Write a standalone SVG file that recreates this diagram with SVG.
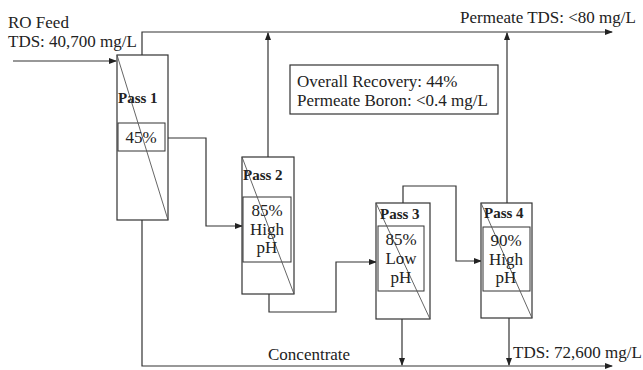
<svg xmlns="http://www.w3.org/2000/svg" width="643" height="370" viewBox="0 0 643 370">
<defs>
<marker id="ah" markerWidth="8" markerHeight="6" refX="7" refY="3" orient="auto" markerUnits="userSpaceOnUse">
<path d="M0,0 L8,3 L0,6 Z" fill="#222"/>
</marker>
</defs>
<style>
.ln{fill:none;stroke:#333;stroke-width:1.2}
.box{fill:#fff;stroke:#333;stroke-width:1.2}
.ib{fill:#fff;stroke:#333;stroke-width:1}
.dg{stroke:#555;stroke-width:0.9}
.t{font-family:"Liberation Serif",serif;font-size:17px;fill:#222}
.b{font-family:"Liberation Serif",serif;font-size:15px;font-weight:bold;fill:#222}
.c{text-anchor:middle}
</style>
<rect width="643" height="370" fill="#fff"/>
<g id="connectors">
<path class="ln" d="M13,61 H116" marker-end="url(#ah)"/>
<path class="ln" d="M142,55 V32 H612" marker-end="url(#ah)"/>
<path class="ln" d="M268,157 V33" marker-end="url(#ah)"/>
<path class="ln" d="M507,203 V33" marker-end="url(#ah)"/>
<path class="ln" d="M142,220 V366 H612" marker-end="url(#ah)"/>
<path class="ln" d="M165,138 H206 V226 H242" marker-end="url(#ah)"/>
<path class="ln" d="M269,294 V312 H336 V262 H376" marker-end="url(#ah)"/>
<path class="ln" d="M403,203 V186 H456 V261 H481" marker-end="url(#ah)"/>
<path class="ln" d="M402,319 V365" marker-end="url(#ah)"/>
<path class="ln" d="M509,318 V365" marker-end="url(#ah)"/>
</g>
<g id="feed">
<text class="t" x="8" y="28">RO Feed</text>
<text class="t" x="8" y="47">TDS: 40,700 mg/L</text>
</g>
<g id="permeate">
<text class="t" x="460" y="23">Permeate TDS: &lt;80 mg/L</text>
</g>
<g id="summary">
<rect class="box" x="290" y="65" width="208" height="49"/>
<text class="t" x="297" y="87">Overall Recovery: 44%</text>
<text class="t" x="297" y="106">Permeate Boron: &lt;0.4 mg/L</text>
</g>
<g id="pass1">
<rect class="box" x="117" y="55" width="51" height="165"/>
<rect class="ib" x="118" y="123" width="47" height="28"/>
<line class="dg" x1="117" y1="55" x2="168" y2="220"/>
<text class="b" x="118" y="103">Pass 1</text>
<text class="t c" x="141" y="143">45%</text>
</g>
<g id="pass2">
<rect class="box" x="242" y="157" width="52" height="137"/>
<rect class="ib" x="243" y="197" width="48" height="65"/>
<line class="dg" x1="242" y1="157" x2="294" y2="294"/>
<text class="b" x="243" y="180">Pass 2</text>
<text class="t c" x="267" y="216">85%</text>
<text class="t c" x="267" y="235">High</text>
<text class="t c" x="267" y="253">pH</text>
</g>
<g id="pass3">
<rect class="box" x="376" y="203" width="54" height="116"/>
<rect class="ib" x="378" y="226" width="46" height="65"/>
<line class="dg" x1="376" y1="203" x2="430" y2="319"/>
<text class="b" x="380" y="219">Pass 3</text>
<text class="t c" x="401" y="245">85%</text>
<text class="t c" x="401" y="264">Low</text>
<text class="t c" x="401" y="283">pH</text>
</g>
<g id="pass4">
<rect class="box" x="481" y="203" width="51" height="115"/>
<rect class="ib" x="483" y="227" width="47" height="64"/>
<line class="dg" x1="481" y1="203" x2="532" y2="318"/>
<text class="b" x="484" y="218">Pass 4</text>
<text class="t c" x="506" y="246">90%</text>
<text class="t c" x="506" y="265">High</text>
<text class="t c" x="506" y="283">pH</text>
</g>
<g id="concentrate">
<text class="t" x="268" y="360">Concentrate</text>
<text class="t" x="513" y="358">TDS: 72,600 mg/L</text>
</g>
</svg>
